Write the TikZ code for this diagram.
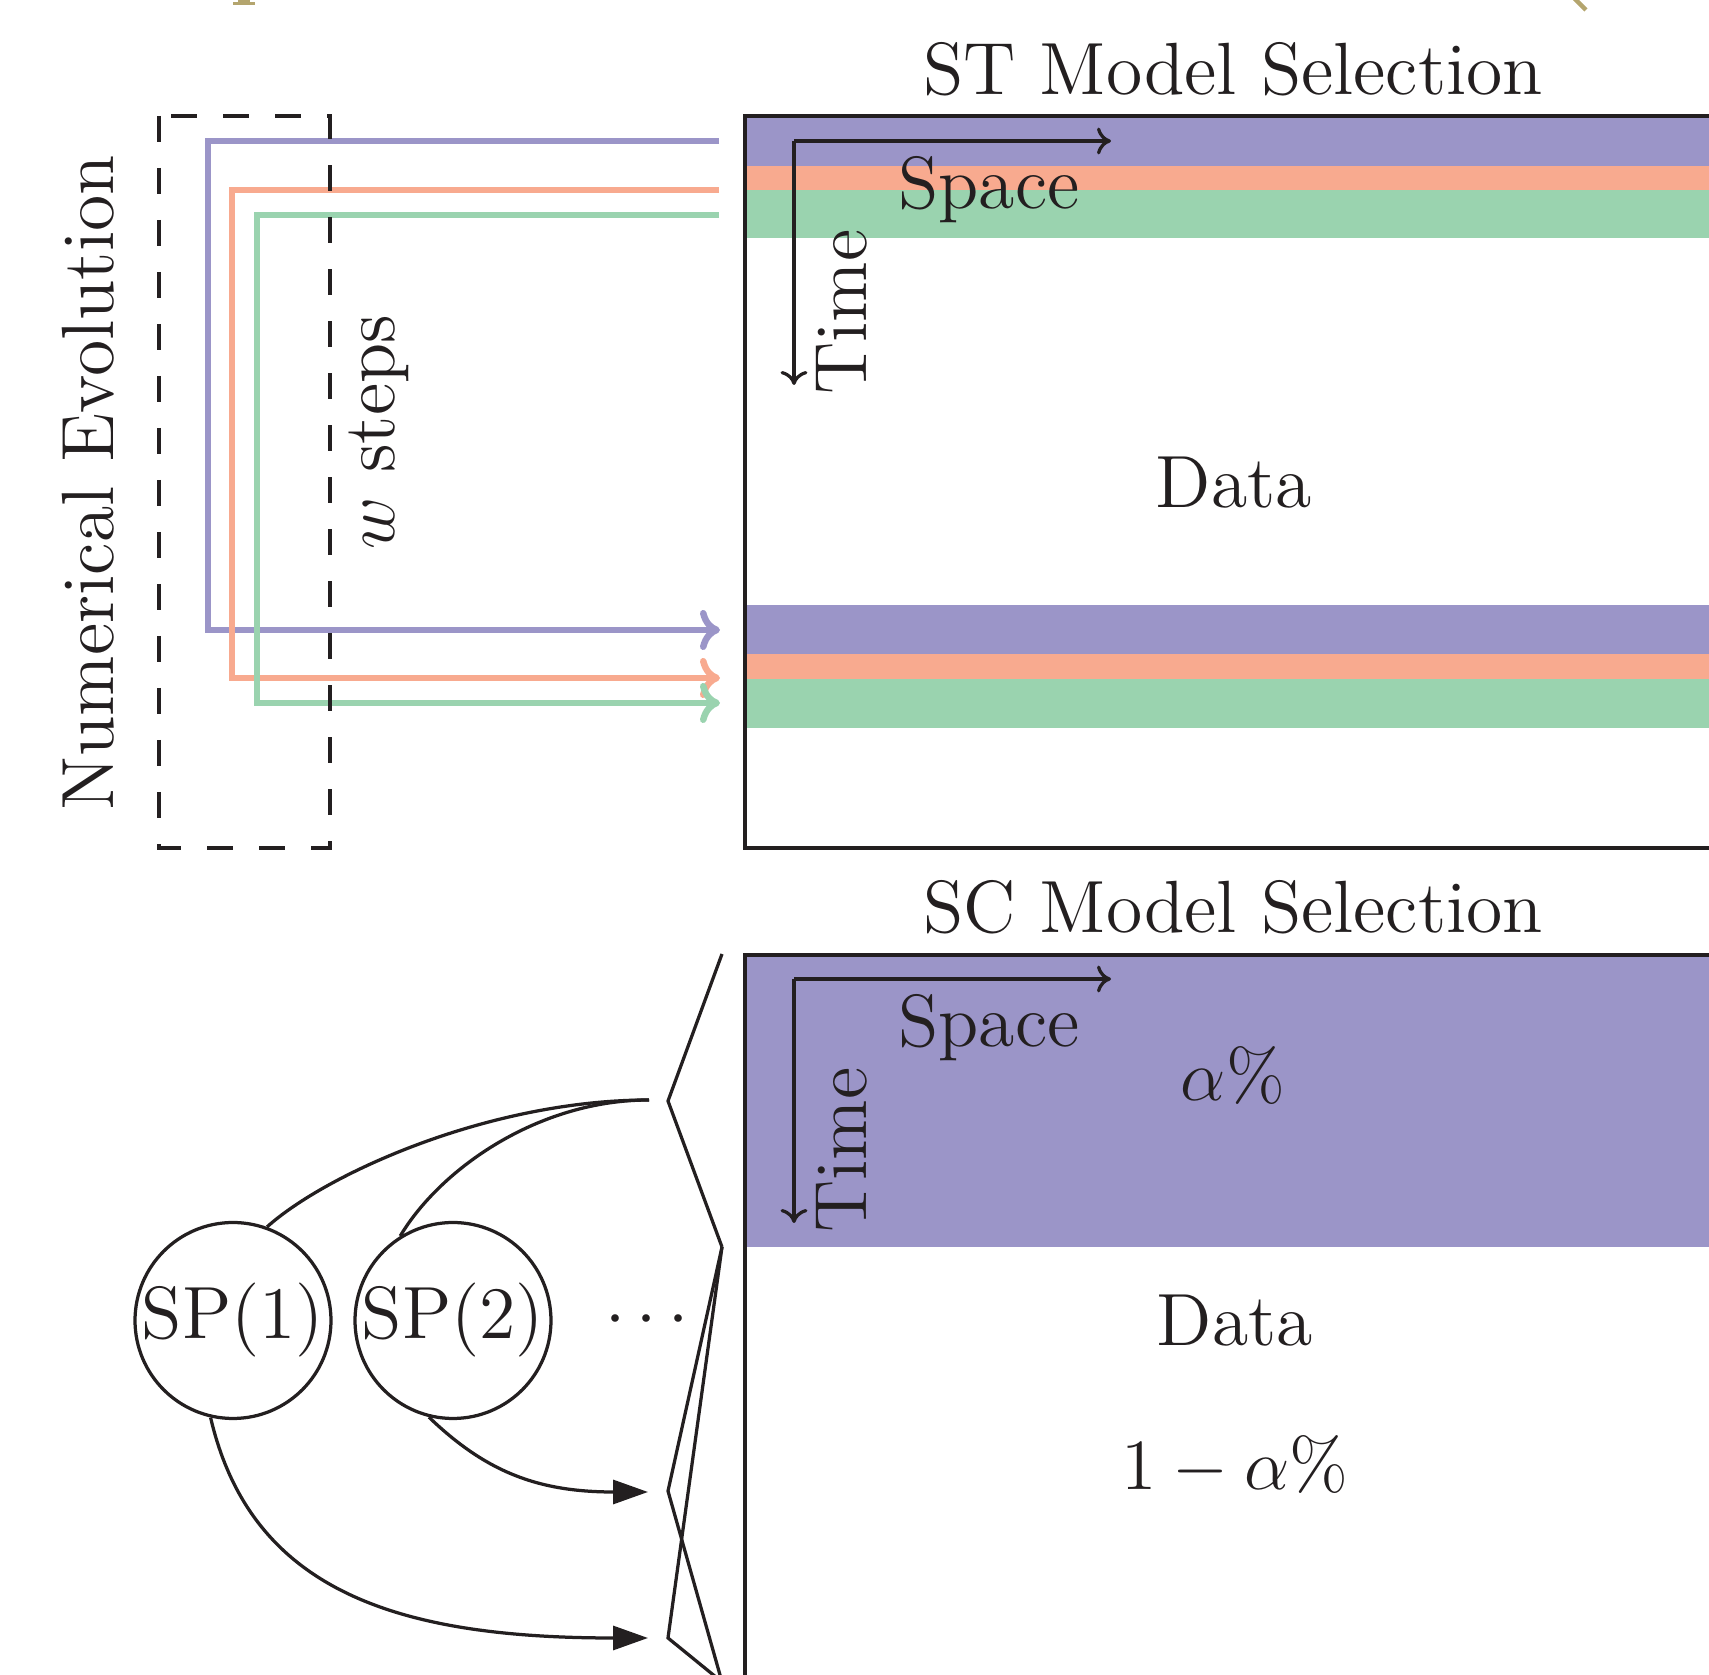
\documentclass[tikz,border=0pt]{standalone}
\usetikzlibrary{arrows.meta}
\definecolor{cpur}{HTML}{9B95C8}
\definecolor{csal}{HTML}{F8AA8F}
\definecolor{cgrn}{HTML}{9AD3AF}
\definecolor{cgold}{HTML}{B4A56E}
\definecolor{cink}{HTML}{231F20}
\begin{document}
\begin{tikzpicture}[x=0.2pt,y=-0.2pt,
  font=\fontsize{14.8}{18}\selectfont,
  txt/.style={inner sep=0pt, text=cink},
  blk/.style={draw=cink, line width=0.65pt},
  cline/.style={line width=1.3pt},
  carrow/.style={-{Computer Modern Rightarrow[length=4pt,width=8pt]}},
  axisarrow/.style={blk, -{Computer Modern Rightarrow[length=2.8pt,width=5.4pt]}},
  spnode/.style={circle, draw=cink, line width=0.65pt, inner sep=0pt, minimum size=39pt, text=cink},
  fanline/.style={draw=cink, line width=0.65pt, line join=miter},
  curvearrow/.style={blk, -{Triangle[length=7pt,width=4.8pt]}}]
\useasboundingbox (0,0) rectangle (1709,1675);
\clip (0,0) rectangle (1709,1675);

% cut-off fragments at the top edge
\fill[cgold] (233,2.5) rectangle (255,5);
\fill[cgold] (238,-2) rectangle (250,3);
\draw[cgold, line width=0.9pt] (1573,-3) -- (1586,10);

% ---- top data box ----
\fill[cpur] (745,116) rectangle (1800,166);
\fill[csal] (745,166) rectangle (1800,190);
\fill[cgrn] (745,190) rectangle (1800,238);
\fill[cpur] (745,605) rectangle (1800,654);
\fill[csal] (745,654) rectangle (1800,679);
\fill[cgrn] (745,679) rectangle (1800,728);
\draw[blk] (745,116) rectangle (1800,848);

% ---- bottom data box ----
\fill[cpur] (745,955) rectangle (1800,1247);
\draw[blk] (745,955) rectangle (1800,1682);

% coordinates
\coordinate (pS) at (719,141);
\coordinate (pE) at (720,630);
\coordinate (sS) at (719,190);
\coordinate (sE) at (720,678);
\coordinate (gS) at (719,215);
\coordinate (gE) at (720,703);

% colored evolution lines
\draw[cline, cpur, carrow] (pS) -- (208,141) -- (208,630) -- (pE);
\draw[cline, csal, carrow] (sS) -- (232,190) -- (232,678) -- (sE);
\draw[cline, cgrn, carrow] (gS) -- (257,215) -- (257,703) -- (gE);

% dashed window
\draw[cink, line width=0.65pt, dash pattern=on 5.2pt off 5.2pt] (159,116) rectangle (330,848);

% axes
\coordinate (o1) at (794,141);
\coordinate (x1) at (1111,141);
\coordinate (y1) at (794,385);
\draw[axisarrow] (o1) -- (x1);
\draw[axisarrow] (o1) -- (y1);
\coordinate (o2) at (794,979);
\coordinate (x2) at (1111,979);
\coordinate (y2) at (794,1223);
\draw[axisarrow] (o2) -- (x2);
\draw[axisarrow] (o2) -- (y2);

% texts
\node[txt] (stt) at (1233,69) {ST Model Selection};
\node[txt] (sct) at (1233,907) {SC Model Selection};
\node[txt] (spc1) at (989,190) {Space};
\node[txt] (spc2) at (989,1028) {Space};
\node[txt, rotate=90] (tim1) at (842,312) {Time};
\node[txt, rotate=90] (tim2) at (842,1150) {Time};
\node[txt] (dat1) at (1234,483) {Data};
\node[txt] (dat2) at (1235,1321) {Data};
\node[txt] (alp) at (1233,1076) {$\alpha\%$};
\node[txt] (oma) at (1235,1466) {$1-\alpha\%$};
\node[txt, rotate=90] (nev) at (88,483) {Numerical Evolution};
\node[txt, rotate=90] (ws) at (379,432) {$w$ steps};

% sampling processes
\node[spnode] (sp1) at (233,1320.5) {SP(1)};
\node[spnode] (sp2) at (453,1320.5) {SP(2)};
\node[txt, anchor=base] (dots) at (647,1337) {$\cdots$};

\coordinate (c1) at (649,1100);
\coordinate (c3) at (648,1492);
\coordinate (c4) at (648,1638);
\draw[blk] (sp1.70) .. controls (326,1174) and (489,1100) .. (c1);
\draw[blk] (sp2.122) .. controls (441,1168) and (539,1100) .. (c1);
\draw[curvearrow] (sp2.256) .. controls (486,1472) and (538,1492) .. (c3);
\draw[curvearrow] (sp1.257) .. controls (251,1591) and (397,1638) .. (c4);

% zoom fans
\coordinate (fA) at (722,954);
\coordinate (fP1) at (668,1101);
\coordinate (fB) at (722,1247);
\coordinate (fP2) at (668,1491);
\coordinate (fP3) at (668,1638);
\coordinate (fD) at (722,1682);
\draw[fanline] (fA) -- (fP1) -- (fB);
\draw[fanline] (fB) -- (fP2) -- (fD);
\draw[fanline] (fB) -- (fP3) -- (fD);
\end{tikzpicture}
\end{document}
